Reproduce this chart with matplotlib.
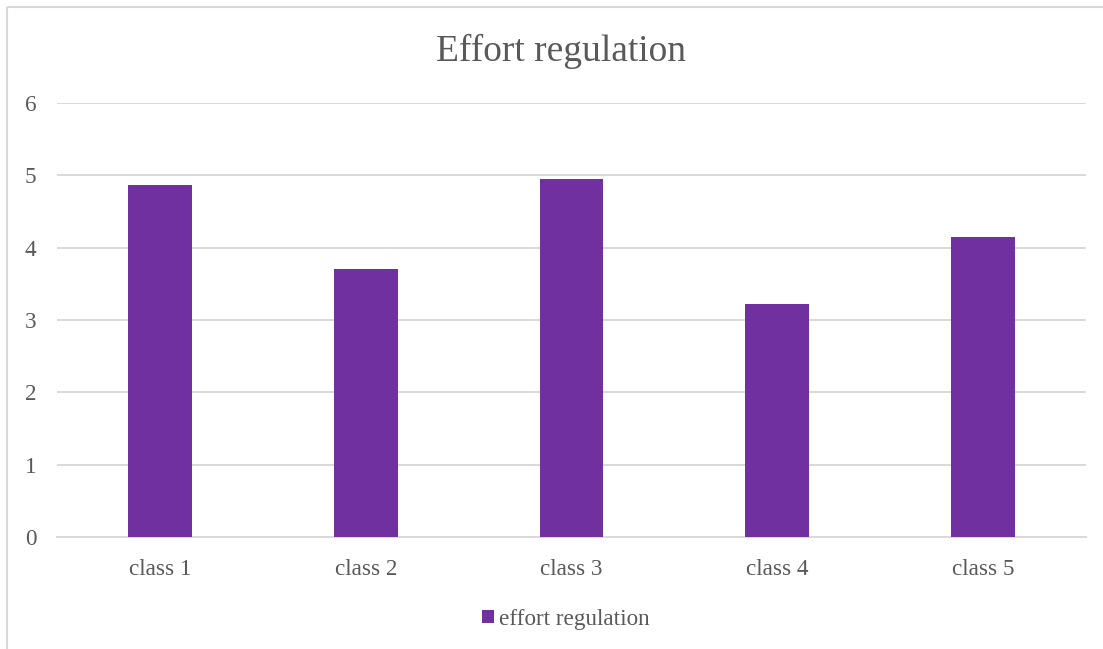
import numpy as np
import matplotlib.pyplot as plt
from matplotlib.lines import Line2D
from matplotlib.patches import Patch

# 数据
classes = ['class 1', 'class 2', 'class 3', 'class 4', 'class 5']
effort = [4.87, 3.71, 4.95, 3.22, 4.15]
series_name = 'effort regulation'

bar_color = '#7030A0'
text_color = '#595959'
grid_color = '#D9D9D9'

plt.rcParams['font.family'] = ['Liberation Serif', 'DejaVu Serif']

fig = plt.figure(figsize=(11.03, 6.49), dpi=100, facecolor='white')
fig.patch.set_linewidth(0)
ax = fig.add_axes([57 / 1103, 1 - 537 / 649, 1029 / 1103, 434 / 649])

x = np.arange(len(classes))
ax.bar(x, effort, width=0.31, color=bar_color, zorder=3)

ax.set_xlim(-0.5, len(classes) - 0.5)
ax.set_ylim(0, 6)
ax.set_yticks(np.arange(0, 7, 1))
ax.set_xticks(x)
ax.set_xticklabels(classes)

ax.grid(axis='y', color=grid_color, linewidth=1.4, zorder=0)
ax.set_axisbelow(True)
for side in ['top', 'right', 'left']:
    ax.spines[side].set_visible(False)
ax.spines['bottom'].set_color(grid_color)
ax.spines['bottom'].set_linewidth(1.4)

ax.tick_params(axis='both', length=0, labelsize=16.7, colors=text_color)
ax.tick_params(axis='x', pad=16)
ax.tick_params(axis='y', pad=15)

fig.text(560.5 / 1103, 1 - 51 / 649, 'Effort regulation', ha='center', va='center',
         fontsize=27, color=text_color)

fig.legend(handles=[Patch(facecolor=bar_color, label=series_name)],
           loc='center', bbox_to_anchor=(565.5 / 1103, 1 - 619 / 649),
           frameon=False, fontsize=16.7, labelcolor=text_color,
           handlelength=0.52, handleheight=0.52, handletextpad=0.22,
           borderpad=0)

# 图表外框（只露出上边和左边）
bx, by = 7 / 1103, 1 - 7 / 649
fig.add_artist(Line2D([bx, 1.0], [by, by], transform=fig.transFigure,
                      color=grid_color, linewidth=1.5, solid_capstyle='butt'))
fig.add_artist(Line2D([bx, bx], [0.0, by], transform=fig.transFigure,
                      color=grid_color, linewidth=1.5, solid_capstyle='butt'))

fig.savefig('out.png', dpi=100, facecolor='white')
